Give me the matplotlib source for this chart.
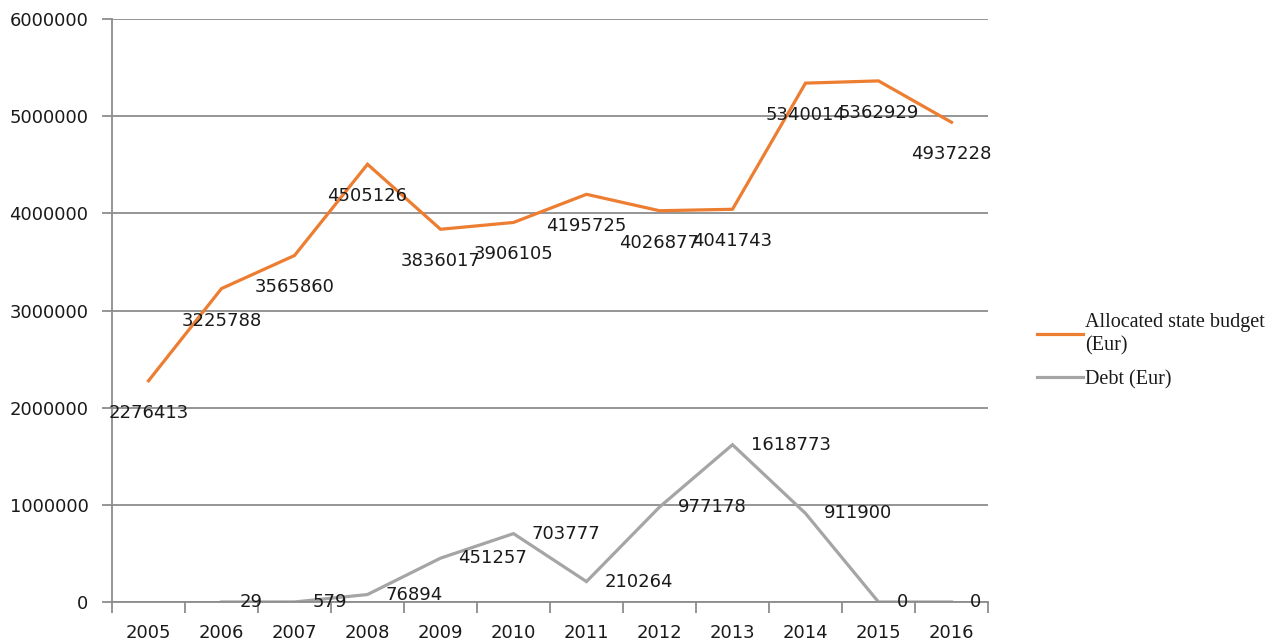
import numpy as np
import matplotlib
matplotlib.use("Agg")
import matplotlib.pyplot as plt

years = ["2005", "2006", "2007", "2008", "2009", "2010",
         "2011", "2012", "2013", "2014", "2015", "2016"]
budget = [2276413, 3225788, 3565860, 4505126, 3836017, 3906105,
          4195725, 4026877, 4041743, 5340014, 5362929, 4937228]
debt = [np.nan, 29, 579, 76894, 451257, 703777,
        210264, 977178, 1618773, 911900, 0, 0]

budget_label = "Allocated state budget\n(Eur)"
debt_label = "Debt (Eur)"

orange = "#ED7D31"
grey = "#A5A5A5"
axis_grey = "#8C8C8C"

fig = plt.figure(figsize=(12.83, 6.43), dpi=100)
ax = fig.add_axes([112/1283, 1 - 602/643, (988-112)/1283, (602-19)/643])

x = np.arange(len(years))
l1, = ax.plot(x, budget, color=orange, lw=2.3, solid_joinstyle="miter")
l2, = ax.plot(x, debt, color=grey, lw=2.3, solid_joinstyle="miter")

# data labels: budget below the point, debt to the right
for xi, v in zip(x, budget):
    ax.annotate(str(v), (xi, v), xytext=(0, -23), textcoords="offset points",
                ha="center", va="center", fontsize=13, color="#1a1a1a")
for xi, v in zip(x, debt):
    if np.isnan(v):
        continue
    ax.annotate(str(int(v)), (xi, v), xytext=(13, 0), textcoords="offset points",
                ha="left", va="center", fontsize=13, color="#1a1a1a")

ax.set_xlim(-0.5, len(years) - 0.5)
ax.set_ylim(0, 6000000)
ax.set_yticks(np.arange(0, 6000001, 1000000))
ax.set_yticklabels([str(v) for v in range(0, 6000001, 1000000)])
ax.yaxis.grid(True, color=axis_grey, lw=1.3)
ax.set_axisbelow(True)

ax.set_xticks(np.arange(-0.5, len(years), 1.0))
ax.set_xticklabels([])
ax.set_xticks(x, minor=True)
ax.set_xticklabels(years, minor=True)
ax.tick_params(axis="x", which="major", length=8, width=1.3, color=axis_grey)
ax.tick_params(axis="x", which="minor", length=0, pad=16, labelsize=13,
               labelcolor="#1a1a1a")
ax.tick_params(axis="y", length=7, width=1.3, color=axis_grey, pad=10,
               labelsize=13, labelcolor="#1a1a1a")

for s in ["top", "right"]:
    ax.spines[s].set_visible(False)
ax.spines["left"].set_color(axis_grey)
ax.spines["left"].set_linewidth(1.3)
ax.spines["bottom"].set_color(axis_grey)
ax.spines["bottom"].set_linewidth(1.3)

leg = fig.legend([l1, l2], [budget_label, debt_label], loc="center left",
                 bbox_to_anchor=(1037/1283, 1 - 351/643), frameon=False,
                 prop={"family": "Liberation Serif", "size": 14.5},
                 handlelength=2.3, handletextpad=0.1, borderpad=0,
                 borderaxespad=0, labelspacing=0.75)
for t in leg.get_texts():
    t.set_linespacing(1.3)
    t.set_color("#1a1a1a")

fig.savefig("out.png", dpi=100)
